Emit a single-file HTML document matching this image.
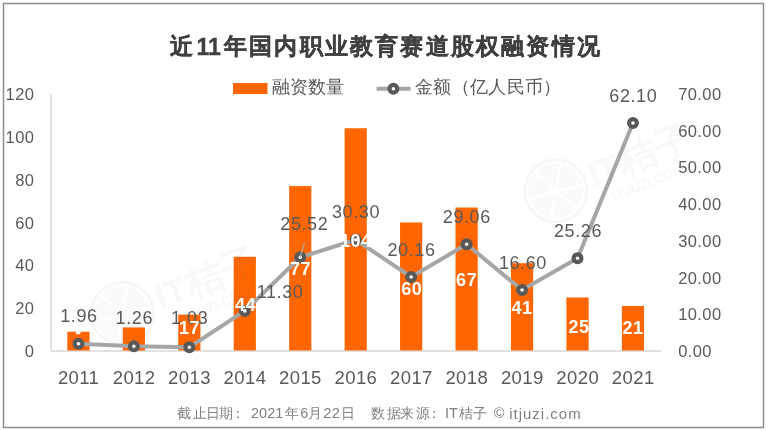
<!DOCTYPE html>
<html><head><meta charset="utf-8"><style>
html,body{margin:0;padding:0;background:#fff;}
body{width:768px;height:431px;position:relative;overflow:hidden;will-change:transform;font-family:"Liberation Sans",sans-serif;}
svg{position:absolute;left:0;top:0;}
.al{font-size:18px;fill:#595959;text-anchor:middle;letter-spacing:0.6px;}
.cl{font-size:18px;font-weight:bold;fill:#fff;text-anchor:middle;letter-spacing:0.6px;}
.ax{font-size:16.5px;fill:#595959;letter-spacing:0.4px;}
.yr{font-size:18.5px;fill:#595959;text-anchor:middle;letter-spacing:0.4px;}
.ti{font-size:23px;font-weight:bold;color:#404040;-webkit-text-stroke:0.35px #404040;}
.t{position:absolute;white-space:nowrap;line-height:1;}
.f{color:#7f7f7f;}
</style></head><body>
<svg width="768" height="431" viewBox="0 0 768 431">
<rect x="3.5" y="3.5" width="760" height="424" fill="#fff" stroke="#8c8c8c" stroke-width="1.5"/>
<g transform="translate(122.5,313.5) scale(1.0)"><circle cx="0" cy="0" r="31.5" fill="rgba(120,120,120,0.035)" stroke="rgba(120,120,120,0.05)" stroke-width="2"/><circle cx="0" cy="0" r="28.5" fill="none" stroke="#fff" stroke-opacity="0.85" stroke-width="1.6"/><line x1="0" y1="0" x2="30" y2="0" stroke="#fff" stroke-opacity="0.9" stroke-width="2.2" transform="rotate(-80)"/><line x1="0" y1="0" x2="30" y2="0" stroke="#fff" stroke-opacity="0.9" stroke-width="2.2" transform="rotate(-12)"/><line x1="0" y1="0" x2="30" y2="0" stroke="#fff" stroke-opacity="0.9" stroke-width="2.2" transform="rotate(40)"/><line x1="0" y1="0" x2="30" y2="0" stroke="#fff" stroke-opacity="0.9" stroke-width="2.2" transform="rotate(100)"/><line x1="0" y1="0" x2="30" y2="0" stroke="#fff" stroke-opacity="0.9" stroke-width="2.2" transform="rotate(160)"/><line x1="0" y1="0" x2="30" y2="0" stroke="#fff" stroke-opacity="0.9" stroke-width="2.2" transform="rotate(-140)"/></g>
<g transform="translate(555.8,190.8) scale(1.0)"><circle cx="0" cy="0" r="31.5" fill="rgba(120,120,120,0.035)" stroke="rgba(120,120,120,0.05)" stroke-width="2"/><circle cx="0" cy="0" r="28.5" fill="none" stroke="#fff" stroke-opacity="0.85" stroke-width="1.6"/><line x1="0" y1="0" x2="30" y2="0" stroke="#fff" stroke-opacity="0.9" stroke-width="2.2" transform="rotate(-80)"/><line x1="0" y1="0" x2="30" y2="0" stroke="#fff" stroke-opacity="0.9" stroke-width="2.2" transform="rotate(-12)"/><line x1="0" y1="0" x2="30" y2="0" stroke="#fff" stroke-opacity="0.9" stroke-width="2.2" transform="rotate(40)"/><line x1="0" y1="0" x2="30" y2="0" stroke="#fff" stroke-opacity="0.9" stroke-width="2.2" transform="rotate(100)"/><line x1="0" y1="0" x2="30" y2="0" stroke="#fff" stroke-opacity="0.9" stroke-width="2.2" transform="rotate(160)"/><line x1="0" y1="0" x2="30" y2="0" stroke="#fff" stroke-opacity="0.9" stroke-width="2.2" transform="rotate(-140)"/></g>
<line x1="51.0" y1="94.0" x2="51.0" y2="351.0" stroke="#d9d9d9" stroke-width="1.5"/>
<line x1="51.0" y1="351.0" x2="661.0" y2="351.0" stroke="#d9d9d9" stroke-width="1.5"/>
<rect x="67.33" y="331.73" width="22.2" height="18.77" fill="#ff6600"/>
<rect x="122.78" y="327.44" width="22.2" height="23.06" fill="#ff6600"/>
<rect x="178.24" y="314.59" width="22.2" height="35.91" fill="#ff6600"/>
<rect x="233.69" y="256.77" width="22.2" height="93.73" fill="#ff6600"/>
<rect x="289.15" y="186.09" width="22.2" height="164.41" fill="#ff6600"/>
<rect x="344.60" y="128.27" width="22.2" height="222.23" fill="#ff6600"/>
<rect x="400.05" y="222.50" width="22.2" height="128.00" fill="#ff6600"/>
<rect x="455.51" y="207.51" width="22.2" height="142.99" fill="#ff6600"/>
<rect x="510.96" y="263.19" width="22.2" height="87.31" fill="#ff6600"/>
<rect x="566.42" y="297.46" width="22.2" height="53.04" fill="#ff6600"/>
<rect x="621.87" y="306.02" width="22.2" height="44.48" fill="#ff6600"/>
<polygon points="75.8,331.6 80.8,331.6 80.2,334.3 76.4,334.3" fill="#fff"/>
<polyline points="78.43,343.80 133.88,346.37 189.34,347.22 244.79,310.90 300.25,257.31 355.70,239.76 411.15,276.98 466.61,244.31 522.06,290.05 577.52,258.26 632.97,123.00" fill="none" stroke="#a6a6a6" stroke-width="4" stroke-linejoin="round"/>
<circle cx="78.43" cy="343.80" r="3.9" fill="#fff" stroke="#595959" stroke-width="4.2"/>
<circle cx="133.88" cy="346.37" r="3.9" fill="#fff" stroke="#595959" stroke-width="4.2"/>
<circle cx="189.34" cy="347.22" r="3.9" fill="#fff" stroke="#595959" stroke-width="4.2"/>
<circle cx="244.79" cy="310.90" r="3.9" fill="#fff" stroke="#595959" stroke-width="4.2"/>
<circle cx="300.25" cy="257.31" r="3.9" fill="#fff" stroke="#595959" stroke-width="4.2"/>
<circle cx="355.70" cy="239.76" r="3.9" fill="#fff" stroke="#595959" stroke-width="4.2"/>
<circle cx="411.15" cy="276.98" r="3.9" fill="#fff" stroke="#595959" stroke-width="4.2"/>
<circle cx="466.61" cy="244.31" r="3.9" fill="#fff" stroke="#595959" stroke-width="4.2"/>
<circle cx="522.06" cy="290.05" r="3.9" fill="#fff" stroke="#595959" stroke-width="4.2"/>
<circle cx="577.52" cy="258.26" r="3.9" fill="#fff" stroke="#595959" stroke-width="4.2"/>
<circle cx="632.97" cy="123.00" r="3.9" fill="#fff" stroke="#595959" stroke-width="4.2"/>
<line x1="300.25" y1="257.31" x2="304.4" y2="242.8" stroke="#a6a6a6" stroke-width="1.2"/>
<g transform="translate(160.7,309.7) rotate(-21)" fill="rgba(120,120,120,0.055)" font-family="Liberation Sans, sans-serif" font-weight="bold"><text x="0" y="0" font-size="35">IT</text><text x="33" y="0" font-size="38">桔子</text><text x="14" y="20" font-size="13.5">ITJUZI.COM</text></g>
<g transform="translate(594.0,187.0) rotate(-21)" fill="rgba(120,120,120,0.055)" font-family="Liberation Sans, sans-serif" font-weight="bold"><text x="0" y="0" font-size="35">IT</text><text x="33" y="0" font-size="38">桔子</text><text x="14" y="20" font-size="13.5">ITJUZI.COM</text></g>
<rect x="233" y="83" width="34.5" height="11" fill="#ff6600"/>
<line x1="376.5" y1="88.7" x2="410.5" y2="88.7" stroke="#a6a6a6" stroke-width="4"/>
<circle cx="393.4" cy="88.8" r="3.9" fill="#fff" stroke="#595959" stroke-width="4.2"/>
<text x="78.9" y="322.0" class="al">1.96</text>
<text x="134.3" y="324.4" class="al">1.26</text>
<text x="189.6" y="324.4" class="al">1.03</text>
<text x="280.1" y="297.9" class="al">11.30</text>
<text x="304.3" y="230.3" class="al">25.52</text>
<text x="356.0" y="218.4" class="al">30.30</text>
<text x="411.5" y="255.5" class="al">20.16</text>
<text x="466.8" y="222.9" class="al">29.06</text>
<text x="522.9" y="268.8" class="al">16.60</text>
<text x="578.0" y="236.7" class="al">25.26</text>
<text x="633.3" y="101.6" class="al">62.10</text>
<text x="245.6" y="311.0" class="cl">44</text>
<text x="300.5" y="275.3" class="cl">77</text>
<text x="355.8" y="247.1" class="cl">104</text>
<text x="411.8" y="294.5" class="cl">60</text>
<text x="466.7" y="286.1" class="cl">67</text>
<text x="522.0" y="314.2" class="cl">41</text>
<text x="579.0" y="332.8" class="cl">25</text>
<text x="633.0" y="333.6" class="cl">21</text>
<text x="189.6" y="333.6" class="cl">17</text>
<text x="34.3" y="357.0" class="ax" text-anchor="end">0</text>
<text x="34.3" y="314.2" class="ax" text-anchor="end">20</text>
<text x="34.3" y="271.3" class="ax" text-anchor="end">40</text>
<text x="34.3" y="228.5" class="ax" text-anchor="end">60</text>
<text x="34.3" y="185.7" class="ax" text-anchor="end">80</text>
<text x="34.3" y="142.8" class="ax" text-anchor="end">100</text>
<text x="34.3" y="100.0" class="ax" text-anchor="end">120</text>
<text x="678.2" y="357.0" class="ax" text-anchor="start">0.00</text>
<text x="678.2" y="320.3" class="ax" text-anchor="start">10.00</text>
<text x="678.2" y="283.6" class="ax" text-anchor="start">20.00</text>
<text x="678.2" y="246.9" class="ax" text-anchor="start">30.00</text>
<text x="678.2" y="210.1" class="ax" text-anchor="start">40.00</text>
<text x="678.2" y="173.4" class="ax" text-anchor="start">50.00</text>
<text x="678.2" y="136.7" class="ax" text-anchor="start">60.00</text>
<text x="678.2" y="100.0" class="ax" text-anchor="start">70.00</text>
<text x="78.6" y="383.7" class="yr">2011</text>
<text x="134.1" y="383.7" class="yr">2012</text>
<text x="189.5" y="383.7" class="yr">2013</text>
<text x="245.0" y="383.7" class="yr">2014</text>
<text x="300.4" y="383.7" class="yr">2015</text>
<text x="355.9" y="383.7" class="yr">2016</text>
<text x="411.4" y="383.7" class="yr">2017</text>
<text x="466.8" y="383.7" class="yr">2018</text>
<text x="522.3" y="383.7" class="yr">2019</text>
<text x="577.7" y="383.7" class="yr">2020</text>
<text x="633.2" y="383.7" class="yr">2021</text>
</svg>
<div class="t ti" style="left:170px;top:35px;">近</div>
<div class="t ti" style="left:196.5px;top:35.5px;">11</div>
<div class="t ti" style="left:224px;top:35px;letter-spacing:2.2px">年国内职业教育赛道股权融资情况</div>
<div class="t" style="left:272px;top:78px;font-size:18px;color:#595959">融资数量</div>
<div class="t" style="left:415px;top:78px;font-size:18px;letter-spacing:0.35px;color:#595959">金额（亿人民币）</div>
<div class="t f" style="left:176.6px;top:407px;font-size:13.5px;">截</div>
<div class="t f" style="left:192.6px;top:407px;font-size:13.5px;">止</div>
<div class="t f" style="left:205.6px;top:407px;font-size:13.5px;">日</div>
<div class="t f" style="left:218.9px;top:407px;font-size:13.5px;">期</div>
<div class="t f" style="left:230.5px;top:407px;font-size:13.5px;">：</div>
<div class="t f" style="left:251px;top:406px;font-size:14.5px;">2021</div>
<div class="t f" style="left:285px;top:407px;font-size:13.5px;">年</div>
<div class="t f" style="left:300.2px;top:406px;font-size:14.5px;">6</div>
<div class="t f" style="left:308px;top:407px;font-size:13.5px;">月</div>
<div class="t f" style="left:323.2px;top:406px;font-size:14.8px;letter-spacing:0.4px">22</div>
<div class="t f" style="left:341.4px;top:407px;font-size:13.5px;">日</div>
<div class="t f" style="left:371px;top:407px;font-size:13.5px;">数</div>
<div class="t f" style="left:386.9px;top:407px;font-size:13.5px;">据</div>
<div class="t f" style="left:400px;top:407px;font-size:13.5px;">来</div>
<div class="t f" style="left:415.5px;top:407px;font-size:13.5px;">源</div>
<div class="t f" style="left:426.7px;top:407px;font-size:13.5px;">：</div>
<div class="t f" style="left:445px;top:406px;font-size:14.5px;">IT</div>
<div class="t f" style="left:458.8px;top:407px;font-size:13.5px;">桔</div>
<div class="t f" style="left:472.8px;top:407px;font-size:13.5px;">子</div>
<div class="t f" style="left:493.75px;top:406px;font-size:14.5px;">©</div>
<div class="t f" style="left:509.2px;top:406px;font-size:15px;letter-spacing:1px">itjuzi.com</div>
</body></html>
